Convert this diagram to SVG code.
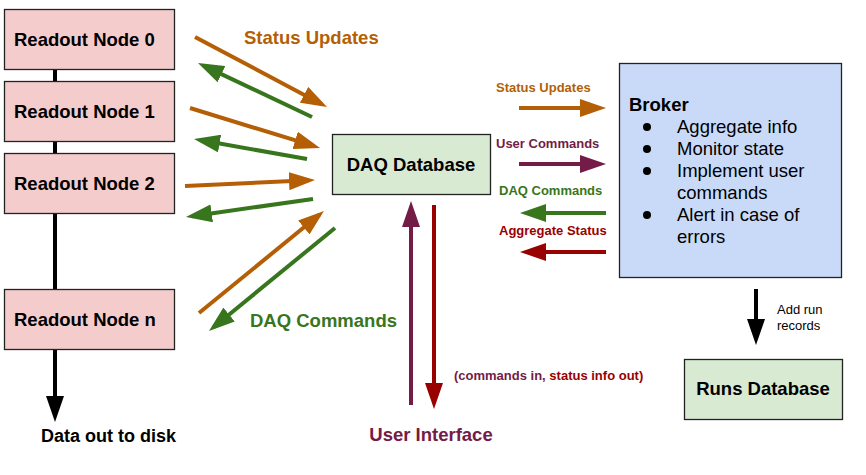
<svg xmlns="http://www.w3.org/2000/svg" width="866" height="475" viewBox="0 0 866 475">
<style>
text{font-family:"Liberation Sans",Arial,sans-serif}
.b{font-weight:bold}
.node{stroke:#222;stroke-width:1.3}
.ro{fill:#f4cccc}
.db{fill:#d9ead3}
.br{fill:#c9daf8}
.t{font-size:18.5px;font-weight:bold;fill:#000}
.l{fill:none;stroke-width:4;stroke-linecap:butt}
.o{stroke:#b45f06}.g{stroke:#38761d}.p{stroke:#741b47}.r{stroke:#990000}.k{stroke:#000}
</style>
<defs>
<marker id="ao" markerUnits="userSpaceOnUse" markerWidth="26" markerHeight="18" refX="20" refY="9" orient="auto"><path d="M0,0L26,9L0,18z" fill="#b45f06"/></marker>
<marker id="ag" markerUnits="userSpaceOnUse" markerWidth="26" markerHeight="18" refX="20" refY="9" orient="auto"><path d="M0,0L26,9L0,18z" fill="#38761d"/></marker>
<marker id="ap" markerUnits="userSpaceOnUse" markerWidth="26" markerHeight="18" refX="20" refY="9" orient="auto"><path d="M0,0L26,9L0,18z" fill="#741b47"/></marker>
<marker id="ar" markerUnits="userSpaceOnUse" markerWidth="26" markerHeight="18" refX="20" refY="9" orient="auto"><path d="M0,0L26,9L0,18z" fill="#990000"/></marker>
<marker id="ak" markerUnits="userSpaceOnUse" markerWidth="26" markerHeight="18" refX="20" refY="9" orient="auto"><path d="M0,0L26,9L0,18z" fill="#000"/></marker>
</defs>
<rect width="866" height="475" fill="#fff"/>
<g id="connectors">
<line class="l k" x1="55" y1="69" x2="55" y2="416" marker-end="url(#ak)"/>
<line class="l o" x1="195" y1="37" x2="321.7" y2="104.2" marker-end="url(#ao)"/>
<line class="l o" x1="190" y1="108" x2="314.3" y2="146.2" marker-end="url(#ao)"/>
<line class="l o" x1="185" y1="186" x2="309" y2="180.3" marker-end="url(#ao)"/>
<line class="l o" x1="199" y1="313" x2="319.3" y2="214.8" marker-end="url(#ao)"/>
<line class="l g" x1="312" y1="117" x2="203.4" y2="65.6" marker-end="url(#ag)"/>
<line class="l g" x1="307" y1="159" x2="199.9" y2="140" marker-end="url(#ag)"/>
<line class="l g" x1="313" y1="199" x2="191.9" y2="216.2" marker-end="url(#ag)"/>
<line class="l g" x1="335" y1="228" x2="213.6" y2="327.2" marker-end="url(#ag)"/>
<line class="l o" x1="519" y1="108" x2="600" y2="108" marker-end="url(#ao)"/>
<line class="l p" x1="519" y1="164" x2="600" y2="164" marker-end="url(#ap)"/>
<line class="l g" x1="606" y1="213" x2="526" y2="213" marker-end="url(#ag)"/>
<line class="l r" x1="606" y1="252" x2="526" y2="252" marker-end="url(#ar)"/>
<line class="l p" x1="411" y1="405" x2="411" y2="207" marker-end="url(#ap)"/>
<line class="l r" x1="434" y1="205" x2="434" y2="403" marker-end="url(#ar)"/>
<line class="l k" x1="756" y1="289" x2="756" y2="339" marker-end="url(#ak)"/>
<text class="b" x="244" y="44" font-size="18.5" fill="#b45f06">Status Updates</text>
<text class="b" x="250" y="327" font-size="18.5" fill="#38761d">DAQ Commands</text>
<text class="b" x="496" y="92" font-size="13" fill="#b45f06">Status Updates</text>
<text class="b" x="496" y="148" font-size="13" fill="#741b47">User Commands</text>
<text class="b" x="499" y="195" font-size="13" fill="#38761d">DAQ Commands</text>
<text class="b" x="499" y="235" font-size="13" fill="#990000">Aggregate Status</text>
<text class="b" x="454" y="380" font-size="13" fill="#741b47">(commands in,<tspan fill="#990000"> status info out)</tspan></text>
<text x="777" y="314" font-size="13" fill="#000">Add run</text>
<text x="777" y="330" font-size="13" fill="#000">records</text>
<text class="b" x="41" y="442" font-size="18" fill="#000">Data out to disk</text>
</g>
<g id="readout0"><rect class="node ro" x="4.5" y="9.5" width="170" height="60"/><text class="t" x="14" y="46">Readout Node 0</text></g>
<g id="readout1"><rect class="node ro" x="4.5" y="81.5" width="170" height="60"/><text class="t" x="14" y="118">Readout Node 1</text></g>
<g id="readout2"><rect class="node ro" x="4.5" y="153.5" width="170" height="60"/><text class="t" x="14" y="190">Readout Node 2</text></g>
<g id="readoutn"><rect class="node ro" x="4.5" y="289.5" width="170" height="60"/><text class="t" x="14" y="326">Readout Node n</text></g>
<g id="daqdb"><rect class="node db" x="332.5" y="134.5" width="158" height="60"/><text class="t" x="411" y="171" text-anchor="middle">DAQ Database</text></g>
<g id="broker"><rect class="node br" x="619.5" y="63.5" width="222" height="214"/>
<text class="t" x="629" y="111">Broker</text>
<g fill="#000">
<circle cx="647" cy="127" r="4"/><circle cx="647" cy="149" r="4"/><circle cx="647" cy="171" r="4"/><circle cx="647" cy="215" r="4"/>
</g>
<g font-size="18.5" fill="#000">
<text x="677" y="133">Aggregate info</text>
<text x="677" y="155">Monitor state</text>
<text x="677" y="177">Implement user</text>
<text x="677" y="199">commands</text>
<text x="677" y="221">Alert in case of</text>
<text x="677" y="243">errors</text>
</g></g>
<g id="runsdb"><rect class="node db" x="684.5" y="359.5" width="158" height="60"/><text class="t" x="763" y="395" text-anchor="middle">Runs Database</text></g>
<g id="ui"><text class="t" x="431" y="441" text-anchor="middle" fill="#741b47" style="fill:#741b47">User Interface</text></g>
</svg>
